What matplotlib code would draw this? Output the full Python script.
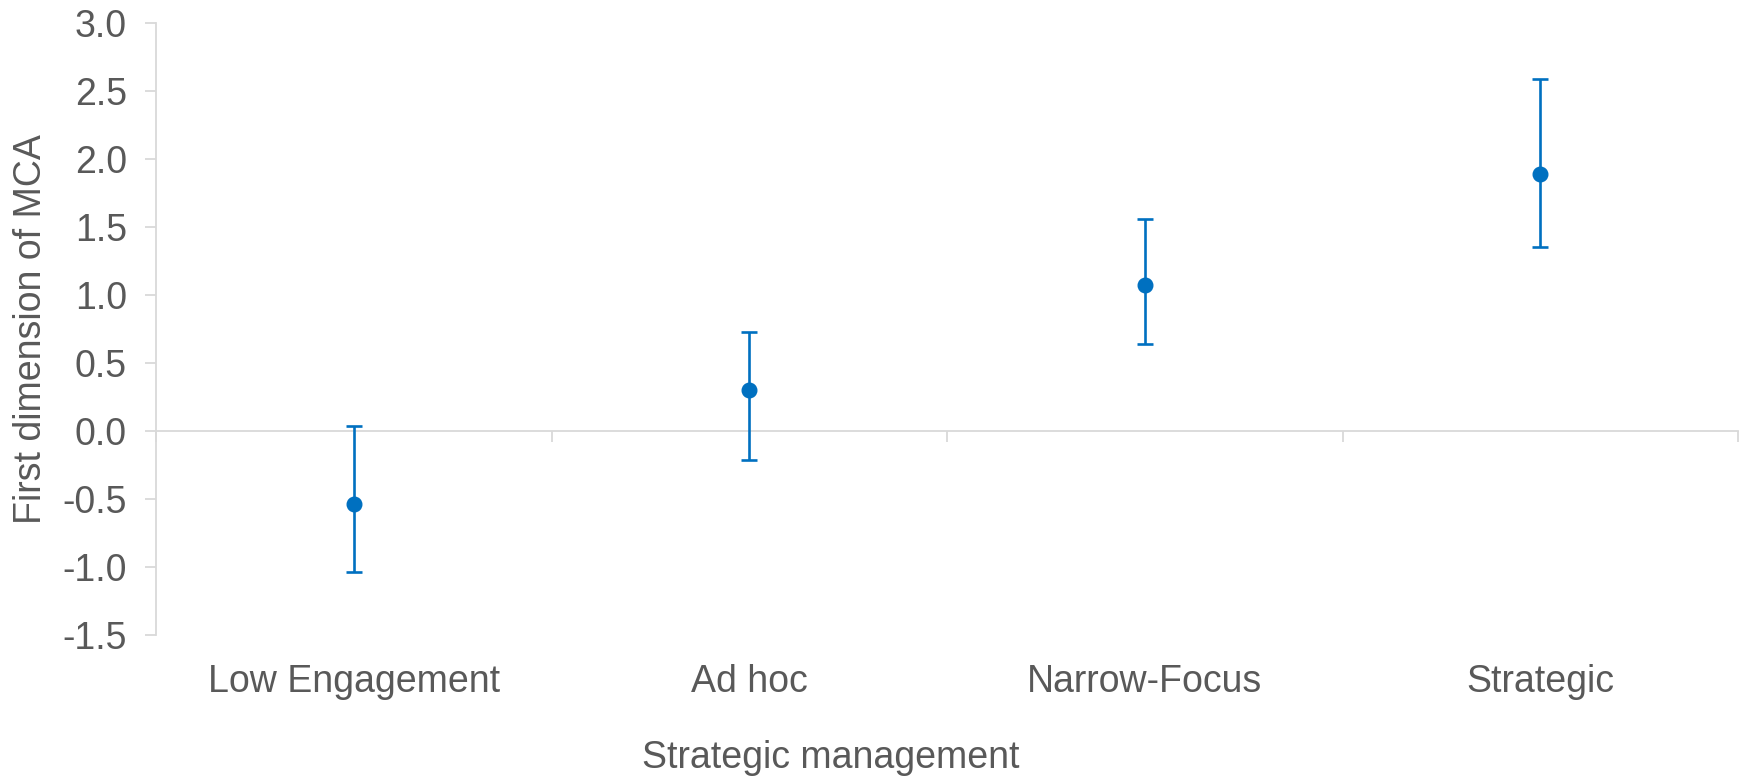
import numpy as np
import matplotlib.pyplot as plt

# data
categories = ["Low Engagement", "Ad hoc", "Narrow-Focus", "Strategic"]
means = [-0.54, 0.30, 1.07, 1.89]
upper = [0.04, 0.73, 1.56, 2.59]
lower = [-1.04, -0.21, 0.64, 1.35]
yticks = [-1.5, -1.0, -0.5, 0.0, 0.5, 1.0, 1.5, 2.0, 2.5, 3.0]

plt.rcParams["font.family"] = ["Liberation Sans", "DejaVu Sans"]
TEXT = "#595959"
AXIS = "#D9D9D9"
BLUE = "#0070C0"
FS = 27

fig = plt.figure(figsize=(17.42, 7.79), dpi=100)
ax = fig.add_axes([156 / 1742, 1 - 635 / 779, (1738 - 156) / 1742, (635 - 23) / 779])

x = np.arange(len(categories))
m = np.array(means)
err = np.vstack([m - np.array(lower), np.array(upper) - m])
ax.errorbar(x, m, yerr=err, fmt="o", color=BLUE, ms=10.5, elinewidth=1.9,
            capsize=5.5, capthick=1.9, zorder=3)

ax.set_xlim(-0.5, len(categories) - 0.5)
ax.set_ylim(-1.5, 3.0)
ax.set_yticks(yticks)
ax.set_yticklabels([f"{v:.1f}" for v in yticks])

# spines
for s in ["top", "right"]:
    ax.spines[s].set_visible(False)
ax.spines["left"].set_color(AXIS)
ax.spines["left"].set_linewidth(1.3)
ax.spines["bottom"].set_position(("data", 0))
ax.spines["bottom"].set_color(AXIS)
ax.spines["bottom"].set_linewidth(1.3)

ax.tick_params(axis="y", colors=AXIS, labelcolor=TEXT, labelsize=FS,
               length=8, width=1.3, pad=13)
ax.set_xticks(np.arange(len(categories) + 1) - 0.5)
ax.set_xticklabels([])
ax.tick_params(axis="x", colors=AXIS, length=8, width=1.3, direction="out")

# category labels below the plot area
for i, c in enumerate(categories):
    ax.annotate(c, xy=(i, 0), xycoords=("data", "axes fraction"),
                xytext=(0, -34), textcoords="offset points",
                ha="center", va="center", fontsize=FS, color=TEXT)

fig.text(831 / 1742, 1 - 758 / 779, "Strategic management", ha="center",
         va="center", fontsize=FS, color=TEXT)
fig.text(31 / 1742, 1 - 329 / 779, "First dimension of MCA", rotation=90,
         ha="center", va="center", fontsize=FS, color=TEXT)

fig.savefig("out.png", dpi=100)
